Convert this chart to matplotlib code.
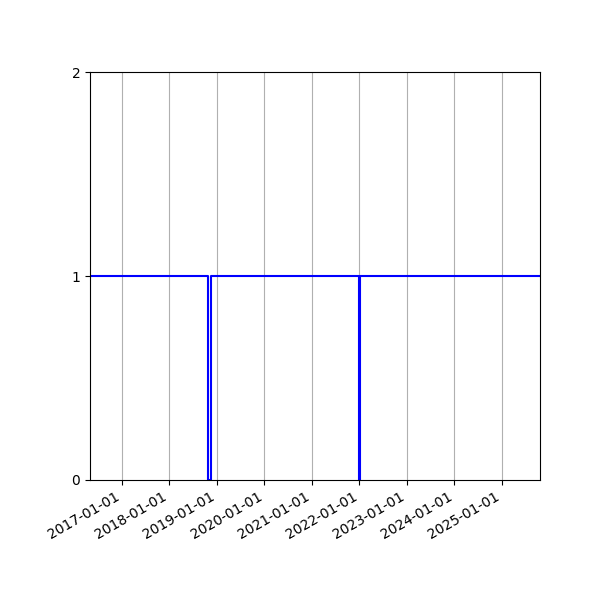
# Step plot of a 0/1 status over time

import numpy as np
import pandas as pd
import matplotlib
matplotlib.use('Agg')
import matplotlib.pyplot as plt
import matplotlib.dates as mdates

# change points of the status (value holds until the next date)
change_dates = ['2016-05-01', '2018-10-27', '2018-11-16', '2022-01-01', '2022-01-03', '2025-10-20']
status = [1, 0, 1, 0, 1, 1]
tick_years = ['2017-01-01', '2018-01-01', '2019-01-01', '2020-01-01', '2021-01-01',
              '2022-01-01', '2023-01-01', '2024-01-01', '2025-01-01']

dates = pd.to_datetime(change_dates)
ticks = pd.to_datetime(tick_years)

fig, ax = plt.subplots(figsize=(6, 6), dpi=100)
ax.plot(dates, status, drawstyle='steps-post', color='b', linewidth=1.5)

ax.set_xlim(dates[0], dates[-1])
ax.set_ylim(0, 2)
ax.set_yticks([0, 1, 2])
ax.set_xticks(ticks)
ax.xaxis.set_major_formatter(mdates.DateFormatter('%Y-%m-%d'))
ax.grid(True, axis='x')
fig.autofmt_xdate()
fig.subplots_adjust(left=0.15, right=0.9, top=0.88, bottom=0.2)

plt.savefig('out.png')
